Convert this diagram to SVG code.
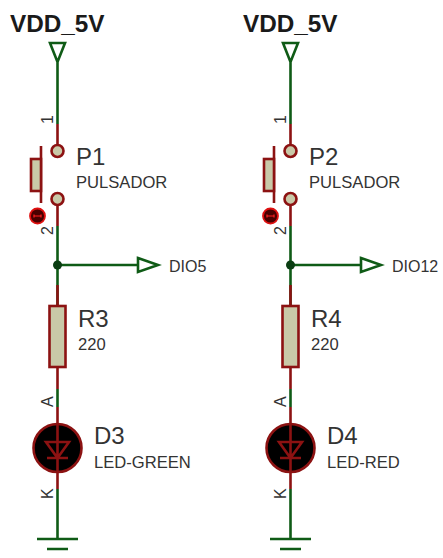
<svg xmlns="http://www.w3.org/2000/svg" width="443" height="558" viewBox="0 0 443 558">
<style>
text{font-family:"Liberation Sans",Arial,sans-serif;fill:#333}
.g{fill:none;stroke:#0f5b16;stroke-width:2.6}
.r{fill:none;stroke:#8c1212;stroke-width:2.6}
.b{fill:#c9c9a8;stroke:#8c1212;stroke-width:2.6}
.t{font-size:24.300px;font-weight:bold;fill:#1a1a1a}
.n{font-size:24px}
.v{font-size:16px}
.p{font-size:16.600px}
.d{fill:#000;stroke:#8c1212;stroke-width:2.6}
</style>
<rect width="443" height="558" fill="#fff"/>
<defs>
<g id="col">
<path class="g" d="M50 43H65L57.500 62ZM57.500 62V124M57.500 226V306M57.500 389V407M57.500 489V539M37 539H78M47 549H68"/>
<path class="r" d="M57.500 124V145M57.500 205V226M57.500 285V306M57.500 367V389M41 146V203"/>
<rect class="b" x="31" y="159" width="10" height="32"/>
<circle class="b" cx="57.500" cy="151" r="6"/>
<circle class="b" cx="57.500" cy="199" r="6"/>
<circle cx="37.500" cy="216" r="7.500" fill="#4a0000" stroke="#e01010" stroke-width="1.800"/>
<path d="M34 216H41M34 214.500V217.500M41 214.500V217.500" stroke="#ff2020" stroke-width="1.200" fill="none"/>
<circle cx="57.500" cy="265" r="4.500" fill="#0a3d12"/>
<rect class="b" x="49.500" y="306" width="16" height="61"/>
<circle class="d" cx="57.500" cy="448" r="24"/>
<path class="r" d="M57.500 407V489M46 442H69L57.500 458ZM47 458H68"/>
</g>
</defs>
<g id="connectors">
<path class="g" d="M57.500 265H138M138 258L158 265L138 272Z"/>
<path class="g" d="M290.500 265H361M361 258L381 265L361 272Z"/>
</g>
<g id="left"><use href="#col"/></g>
<g id="right"><use href="#col" x="233"/></g>
<g id="labels-left">
<text class="t" x="10" y="32">VDD_5V</text>
<text class="v" transform="translate(53 124) rotate(-90)">1</text>
<text class="n" x="76" y="165">P1</text>
<text class="p" x="76" y="188">PULSADOR</text>
<text class="v" transform="translate(53 235) rotate(-90)">2</text>
<text class="v" x="169" y="272">DIO5</text>
<text class="n" x="78" y="327">R3</text>
<text class="p" x="78" y="350">220</text>
<text class="v" transform="translate(53 407) rotate(-90)">A</text>
<text class="n" x="94" y="444">D3</text>
<text class="p" x="94" y="468">LED-GREEN</text>
<text class="v" transform="translate(53 499) rotate(-90)">K</text>
</g>
<g id="labels-right">
<text class="t" x="243" y="32">VDD_5V</text>
<text class="v" transform="translate(286 124) rotate(-90)">1</text>
<text class="n" x="309" y="165">P2</text>
<text class="p" x="309" y="188">PULSADOR</text>
<text class="v" transform="translate(286 235) rotate(-90)">2</text>
<text class="v" x="392" y="272">DIO12</text>
<text class="n" x="311" y="327">R4</text>
<text class="p" x="311" y="350">220</text>
<text class="v" transform="translate(286 407) rotate(-90)">A</text>
<text class="n" x="327" y="444">D4</text>
<text class="p" x="327" y="468">LED-RED</text>
<text class="v" transform="translate(286 499) rotate(-90)">K</text>
</g>
</svg>
